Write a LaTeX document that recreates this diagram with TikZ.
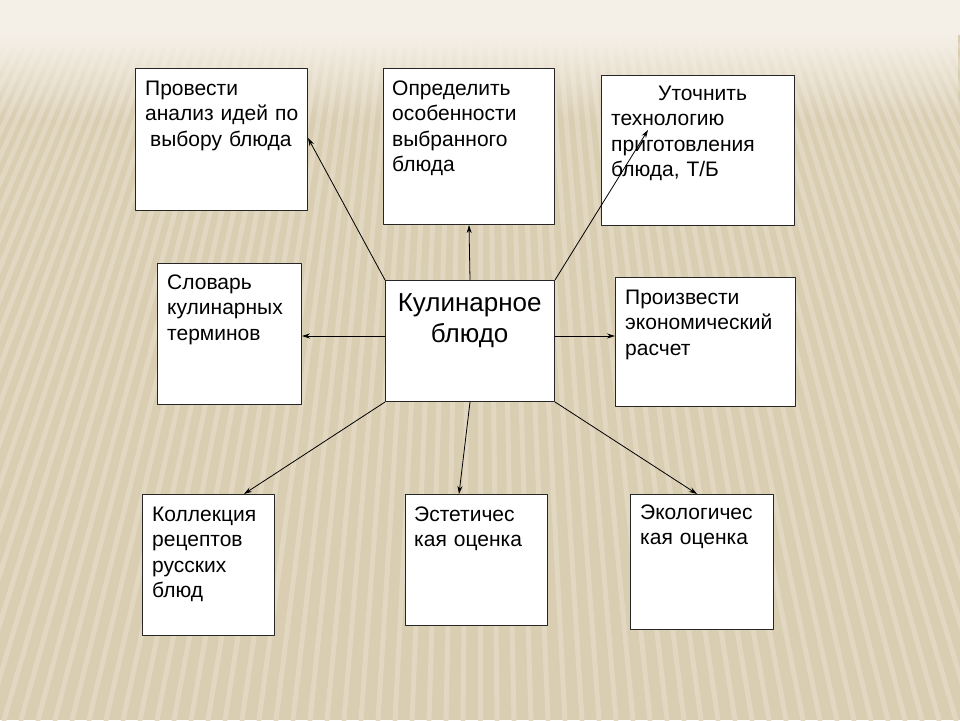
\documentclass[tikz,border=0pt]{standalone}
\usepackage{fontspec}
\setmainfont{Liberation Sans}
\usetikzlibrary{arrows.meta,calc,positioning,fadings}
\definecolor{bgbase}{RGB}{217,205,178}
\definecolor{bgstripe}{RGB}{226,216,194}
\definecolor{bgtop}{RGB}{245,240,231}

\begin{document}
\begin{tikzpicture}[x=1pt,y=-1pt,line cap=round,line join=round,>={Stealth[length=8pt,width=5pt]},
    box/.style={draw=black!85,line width=1pt,fill=white,anchor=north west,inner sep=0pt},
    txt/.style={anchor=base west,inner sep=0pt,align=left,text width=180pt,font=\fontsize{21}{25.5}\selectfont},
    link/.style={->,line width=0.8pt,black}]
    % background
    \useasboundingbox (0,0) rectangle (960,720);
    \fill[bgbase] (0,0) rectangle (960,720);
    \foreach \i in {-56,...,56}
        \draw[bgstripe,line width=5pt] (480+\i*10,45) -- (480+\i*17,720);
    \fill[bgtop] (0,0) rectangle (960,35);
    \fill[bgtop,path fading=south] (0,35) rectangle (960,120);

    % boxes
    \node[box,minimum width=172pt,minimum height=142pt] (analiz) at (135,68) {};
    \node[box,minimum width=171pt,minimum height=156pt] (osob) at (383,68) {};
    \node[box,minimum width=193pt,minimum height=150pt] (tehn) at (601,75) {};
    \node[box,minimum width=144pt,minimum height=141pt] (slovar) at (157,263) {};
    \node[box,minimum width=169pt,minimum height=121pt] (blyudo) at (385,280) {};
    \node[box,minimum width=180pt,minimum height=129pt] (ekon) at (615,277) {};
    \node[box,minimum width=132pt,minimum height=141pt] (kollek) at (142,494) {};
    \node[box,minimum width=142pt,minimum height=131pt] (estet) at (405,494) {};
    \node[box,minimum width=143pt,minimum height=135pt] (ekol) at (630,494) {};

    % texts
    \node[txt] (analiz-t) at ($(analiz.north west)+(10,27)$) {Провести\\анализ идей по\\\hspace*{5pt}выбору блюда};
    \node[txt] (osob-t) at ($(osob.north west)+(9,27)$) {Определить\\особенности\\выбранного\\блюда};
    \node[txt] (tehn-t) at ($(tehn.north west)+(10,25)$) {\hspace*{47pt}Уточнить\\технологию\\приготовления\\блюда, Т/Б};
    \node[txt] (slovar-t) at ($(slovar.north west)+(10,26)$) {Словарь\\кулинарных\\терминов};
    \node[txt,align=center,text width=169pt,font=\fontsize{26}{31}\selectfont] (blyudo-t)
        at ($(blyudo.north west)+(0,31)$) {Кулинарное\\блюдо};
    \node[txt] (ekon-t) at ($(ekon.north west)+(10,27)$) {Произвести\\экономический\\расчет};
    \node[txt] (kollek-t) at ($(kollek.north west)+(10,27)$) {Коллекция\\рецептов\\русских\\блюд};
    \node[txt] (estet-t) at ($(estet.north west)+(9,27)$) {Эстетичес\\кая оценка};
    \node[txt] (ekol-t) at ($(ekol.north west)+(10,25)$) {Экологичес\\кая оценка};

    % arrow ends
    \coordinate (tehn-end) at (648,130);
    \coordinate (analiz-end) at (analiz.north east |- 0,138);
    \coordinate (kollek-end) at (244,494);
    \coordinate (estet-end) at (459,494);
    \coordinate (ekol-end) at (697,494);

    % connectors
    \draw[link] (blyudo.north west) -- (analiz-end);
    \draw[link] (blyudo.north) -- (osob.south);
    \draw[link] (blyudo.north east) -- (tehn-end);
    \draw[link] (blyudo.west |- 0,336) -- (slovar.east |- 0,336);
    \draw[link] (blyudo.east |- 0,336) -- (ekon.west |- 0,336);
    \draw[link] (blyudo.south west) -- (kollek-end);
    \draw[link] (blyudo.south) -- (estet-end);
    \draw[link] (blyudo.south east) -- (ekol-end);
\end{tikzpicture}
\end{document}
